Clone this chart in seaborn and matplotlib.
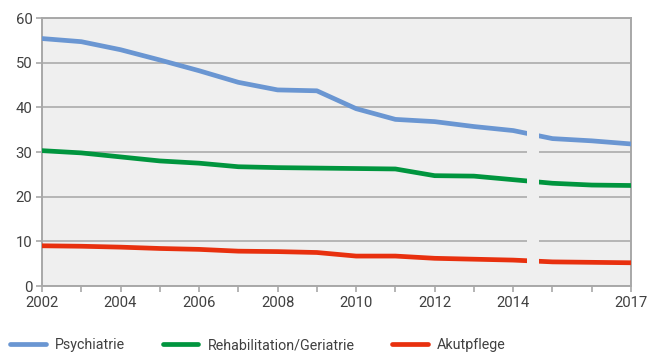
import matplotlib
matplotlib.use("Agg")
import matplotlib.pyplot as plt
import seaborn as sns
import pandas as pd
from matplotlib.patches import Rectangle

years = list(range(2002, 2018))
psychiatrie = [55.4, 54.7, 52.9, 50.6, 48.2, 45.6, 43.9, 43.7, 39.7, 37.3,
               36.8, 35.7, 34.8, 33.0, 32.5, 31.8]
rehabilitation = [30.3, 29.8, 28.9, 28.0, 27.5, 26.7, 26.5, 26.4, 26.3, 26.2,
                  24.7, 24.6, 23.8, 23.0, 22.6, 22.5]
akutpflege = [9.0, 8.9, 8.7, 8.4, 8.2, 7.8, 7.7, 7.5, 6.7, 6.7,
              6.2, 6.0, 5.8, 5.4, 5.3, 5.2]
series_names = ["Psychiatrie", "Rehabilitation/Geriatrie", "Akutpflege"]
colors = ["#6a96d2", "#00953e", "#e8300e"]
xtick_labels = ["2002", "2004", "2006", "2008", "2010", "2012", "2014", "2017"]

df = pd.DataFrame({
    "Jahr": years * 3,
    "Wert": psychiatrie + rehabilitation + akutpflege,
    "Bereich": sum([[n] * len(years) for n in series_names], []),
})

sns.set_theme(style="white")
plt.rcParams["font.family"] = ["Roboto", "DejaVu Sans"]

bg = "#efefef"
grid_c = "#b5b5b5"
spine_c = "#a8a8a8"
text_c = "#404040"

fig = plt.figure(figsize=(6.51, 3.53), dpi=100)
ax = fig.add_axes([42 / 651, 1 - 286 / 353, 589 / 651, 268 / 353])
ax.set_facecolor(bg)

sns.lineplot(data=df, x="Jahr", y="Wert", hue="Bereich", palette=colors,
             hue_order=series_names, linewidth=3.4, ax=ax, legend=False,
             zorder=3)

# break in the series between 2014 and 2015
ax.add_patch(Rectangle((2014.35, 4.3), 0.31, 31.2, facecolor=bg,
                       edgecolor="none", zorder=4))

ax.set_xlim(2002, 2017)
ax.set_ylim(0, 60)
ax.set_yticks(range(0, 61, 10))
ax.set_xticks(years)
ax.set_xticklabels([str(y) if str(y) in xtick_labels else "" for y in years])
ax.yaxis.grid(True, color=grid_c, linewidth=1.4, zorder=1)
ax.xaxis.grid(False)
ax.set_axisbelow(True)
for s in ax.spines.values():
    s.set_visible(True)
    s.set_color(spine_c)
    s.set_linewidth(1.4)
ax.tick_params(axis="both", which="major", direction="out", length=4,
               width=1.2, color=spine_c, labelsize=10.7, labelcolor=text_c,
               pad=3, bottom=True, left=True)
ax.set_xlabel("")
ax.set_ylabel("")

handles = [plt.Line2D([], [], color=c, linewidth=3.4) for c in colors]
fig.legend(handles, series_names, loc="lower left",
           bbox_to_anchor=(-3 / 651, -12 / 353), ncol=3, frameon=False,
           fontsize=10.3, handlelength=2.5, columnspacing=2.65,
           handletextpad=0.63, labelcolor=text_c)

fig.savefig("out.png", dpi=100, facecolor="white")
